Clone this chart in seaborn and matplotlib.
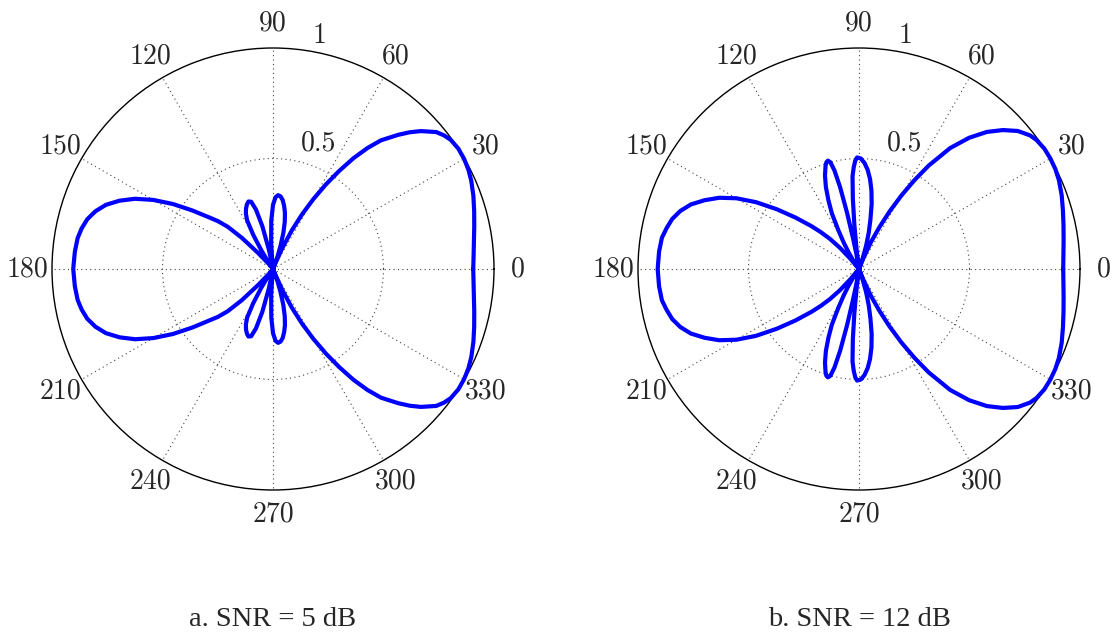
import numpy as np
import pandas as pd
import matplotlib
matplotlib.use("Agg")
import matplotlib.pyplot as plt
import seaborn as sns

# ---------------- data (upper half, pattern is symmetric about 0 deg) ----------------
theta_a = [0, 4, 8, 12, 16, 20, 24, 27, 30, 33, 36, 38, 40, 43, 45, 47, 50, 52, 54, 56, 58, 60, 62, 64, 66, 68, 69,
           70, 72, 74, 76, 78, 80, 82, 84, 86, 88, 90, 92, 94, 96, 97,
           100, 102, 104, 106, 108, 110, 112, 114, 116, 118, 120, 122, 124, 125,
           128, 130, 133, 135, 137, 139, 141, 144, 147, 150, 153, 156, 159, 162, 165, 168, 171, 175, 180]
r_a = [0.906, 0.91, 0.918, 0.931, 0.947, 0.965, 0.982, 0.992, 0.998, 1.0, 0.994, 0.982, 0.964, 0.915, 0.875,
       0.83, 0.76, 0.695, 0.62, 0.535, 0.45, 0.365, 0.28, 0.195, 0.105, 0.025, 0.0,
       0.06, 0.11, 0.17, 0.22, 0.26, 0.29, 0.315, 0.33, 0.335, 0.325, 0.29, 0.22, 0.12, 0.03, 0.0,
       0.0, 0.09, 0.2, 0.28, 0.32, 0.325, 0.315, 0.3, 0.28, 0.25, 0.18, 0.1, 0.04, 0.0,
       0.0, 0.03, 0.1, 0.2, 0.28, 0.33, 0.37, 0.45, 0.54, 0.625, 0.7, 0.76, 0.81, 0.845, 0.87, 0.885, 0.895,
       0.9, 0.904]

theta_b = [0, 4, 8, 12, 16, 20, 24, 27, 30, 33, 36, 38, 41, 44, 47, 50, 53, 56, 58, 60, 62, 64, 66, 68, 69,
           71, 73, 75, 77, 79, 81, 83, 85, 87, 89, 91, 92, 93, 94, 95, 96, 97, 98,
           99, 100, 101, 102, 103, 104, 105, 106, 107, 108, 110, 112, 114, 116, 118, 120, 122, 124, 126, 127,
           128, 130, 132, 134, 136, 138, 141, 144, 147, 150, 153, 156, 159, 162, 165, 168, 171, 175, 180]
r_b = [0.924, 0.927, 0.935, 0.946, 0.96, 0.976, 0.99, 0.997, 1.0, 1.0, 0.993, 0.982, 0.952, 0.905, 0.848,
       0.775, 0.685, 0.565, 0.475, 0.385, 0.295, 0.21, 0.135, 0.05, 0.0,
       0.05, 0.11, 0.17, 0.23, 0.3, 0.36, 0.41, 0.45, 0.48, 0.5, 0.505, 0.49, 0.46, 0.42, 0.32, 0.2, 0.09, 0.0,
       0.0, 0.07, 0.14, 0.26, 0.38, 0.46, 0.5, 0.51, 0.505, 0.49, 0.45, 0.4, 0.34, 0.28, 0.2, 0.14, 0.09, 0.05,
       0.02, 0.0,
       0.0, 0.06, 0.13, 0.19, 0.24, 0.29, 0.37, 0.46, 0.555, 0.64, 0.71, 0.765, 0.815, 0.85, 0.875, 0.89,
       0.903, 0.908, 0.911]

assert len(theta_a) == len(r_a) and len(theta_b) == len(r_b)

angle_ticks = [0, 30, 60, 90, 120, 150, 180, 210, 240, 270, 300, 330]
angle_labels = [str(a) for a in angle_ticks]
r_ticks = [0.5, 1]
r_labels = ["0.5", "1"]
captions = ["a. SNR = 5 dB", "b. SNR = 12 dB"]


def full_pattern(theta, r):
    th = list(theta) + [360 - t for t in reversed(theta[:-1])]
    rr = list(r) + list(reversed(r[:-1]))
    return pd.DataFrame({"theta": np.deg2rad(th), "r": rr})


sns.set_style("white")
plt.rcParams["font.family"] = ["cmr10", "DejaVu Serif"]
plt.rcParams["axes.unicode_minus"] = False

W, H = 1113, 634
fig = plt.figure(figsize=(W / 100, H / 100), dpi=100)

R = 221
centers = [(273, 269), (859, 269)]
datasets = [(theta_a, r_a), (theta_b, r_b)]

for (cx, cy), (th, rr), cap in zip(centers, datasets, captions):
    ax = fig.add_axes([(cx - R) / W, (H - cy - R) / H, 2 * R / W, 2 * R / H], projection="polar")
    df = full_pattern(th, rr)
    sns.lineplot(data=df, x="theta", y="r", ax=ax, sort=False, estimator=None,
                 color="#0000ff", linewidth=3.0, clip_on=False, zorder=5)
    ax.set_xlabel("")
    ax.set_ylabel("")
    ax.set_ylim(0, 1)
    ax.set_xticks(np.deg2rad(angle_ticks))
    ax.set_xticklabels([])
    ax.set_yticks([0.5])
    ax.set_yticklabels([])
    ax.grid(True, color="#444444", linestyle=(0, (1, 3)), linewidth=0.8)
    ax.spines["polar"].set_color("black")
    ax.spines["polar"].set_linewidth(1.0)
    ax.set_facecolor("white")
    for a, lab in zip(angle_ticks, angle_labels):
        ax.text(np.deg2rad(a), 1.11, lab, ha="center", va="center", fontsize=20, clip_on=False)
    ax.text(np.deg2rad(70.3), 0.605, r_labels[0], ha="center", va="center", fontsize=20)
    ax.text(np.deg2rad(78.6), 1.075, r_labels[1], ha="center", va="center", fontsize=20, clip_on=False)
    fig.text(cx / W, (H - 620) / H, cap, ha="center", va="center", fontsize=20.5,
             family=["Liberation Serif", "DejaVu Serif"])

fig.savefig("out.png", dpi=100)
